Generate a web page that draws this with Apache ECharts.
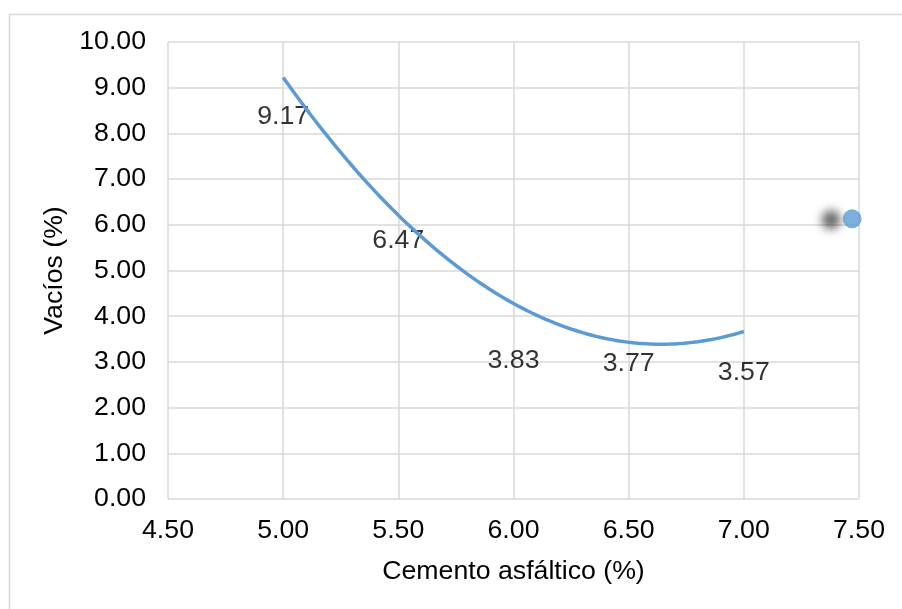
<!DOCTYPE html>
<html>
<head>
<meta charset="utf-8">
<script src="https://cdn.jsdelivr.net/npm/echarts@6/dist/echarts.min.js"></script>
<style>
html,body{margin:0;padding:0;background:#fff;}
#chart{width:902px;height:609px;}
</style>
</head>
<body>
<div id="chart"></div>
<script>
// Data
var cemento = [5.00, 5.50, 6.00, 6.50, 7.00];
var vacios = [9.17, 6.47, 3.83, 3.77, 3.57];
var extraPoint = [7.47, 6.13];
var xTicks = [4.50, 5.00, 5.50, 6.00, 6.50, 7.00, 7.50];
var yTicks = [0, 1, 2, 3, 4, 5, 6, 7, 8, 9, 10];

// Quadratic least-squares trendline (as Excel's polynomial order 2)
function polyFit2(xs, ys) {
  var n = xs.length, s = [0,0,0,0,0], t = [0,0,0];
  for (var i = 0; i < n; i++) {
    var p = 1;
    for (var k = 0; k < 5; k++) { s[k] += p; if (k < 3) t[k] += p * ys[i]; p *= xs[i]; }
  }
  var A = [[s[0], s[1], s[2], t[0]], [s[1], s[2], s[3], t[1]], [s[2], s[3], s[4], t[2]]];
  for (var c = 0; c < 3; c++) {
    for (var r = c + 1; r < 3; r++) {
      var f = A[r][c] / A[c][c];
      for (var j = c; j < 4; j++) A[r][j] -= f * A[c][j];
    }
  }
  var b = [0,0,0];
  for (var r2 = 2; r2 >= 0; r2--) {
    var v = A[r2][3];
    for (var j2 = r2 + 1; j2 < 3; j2++) v -= A[r2][j2] * b[j2];
    b[r2] = v / A[r2][r2];
  }
  return b;
}
var coef = polyFit2(cemento, vacios);
var trend = [];
var x0 = cemento[0], x1 = cemento[cemento.length - 1];
for (var i = 0; i <= 100; i++) {
  var x = x0 + (x1 - x0) * i / 100;
  trend.push([x, coef[0] + coef[1] * x + coef[2] * x * x]);
}

var font = 'Liberation Sans, Arial, sans-serif';
var fs = 26.7;
var chart = echarts.init(document.getElementById('chart'));
chart.setOption({
  animation: false,
  backgroundColor: '#fff',
  graphic: [{
    type: 'rect', left: 7, top: 12,
    shape: { width: 900, height: 600 },
    style: { fill: 'none', stroke: '#d9d9d9', lineWidth: 1.5 },
    silent: true
  }],
  grid: { left: 168, top: 42, right: 43, bottom: 110, containLabel: false },
  xAxis: {
    type: 'value', min: xTicks[0], max: xTicks[xTicks.length - 1], interval: 0.5,
    name: 'Cemento asfáltico (%)', nameLocation: 'middle', nameGap: 59,
    nameTextStyle: { fontFamily: font, fontSize: fs, color: '#000' },
    axisLine: { show: false }, axisTick: { show: false },
    axisLabel: { fontFamily: font, fontSize: fs, color: '#000', margin: 18,
      formatter: function (v) { return v.toFixed(2); } },
    splitLine: { show: true, lineStyle: { color: '#d9d9d9', width: 1.5 } }
  },
  yAxis: {
    type: 'value', min: yTicks[0], max: yTicks[yTicks.length - 1], interval: 1,
    name: 'Vacíos (%)', nameLocation: 'middle', nameGap: 99, nameRotate: 90,
    nameTextStyle: { fontFamily: font, fontSize: fs, color: '#000' },
    axisLine: { show: false }, axisTick: { show: false },
    axisLabel: { fontFamily: font, fontSize: fs, color: '#000', margin: 22,
      formatter: function (v) { return v.toFixed(2); } },
    splitLine: { show: true, lineStyle: { color: '#d9d9d9', width: 1.5 } }
  },
  series: [
    {
      type: 'line', data: trend, showSymbol: false, smooth: false,
      lineStyle: { color: '#5B9BD5', width: 3.5 }, silent: true, z: 2
    },
    {
      type: 'scatter',
      data: cemento.map(function (x, i) { return [x, vacios[i]]; }),
      symbolSize: 1,
      itemStyle: { color: '#ffffff', borderWidth: 0 },
      label: { show: true, position: 'bottom', distance: 23,
        fontFamily: font, fontSize: fs, color: '#000000', textBorderWidth: 0,
        formatter: function (p) { return p.value[1].toFixed(2); } },
      z: 1
    },
    {
      type: 'scatter', data: [extraPoint], symbolSize: 19,
      itemStyle: { color: '#5B9BD5', shadowColor: 'rgba(0,0,0,0.75)', shadowBlur: 10,
        shadowOffsetX: -21, shadowOffsetY: 1 },
      z: 4
    }
  ]
});
</script>
</body>
</html>
